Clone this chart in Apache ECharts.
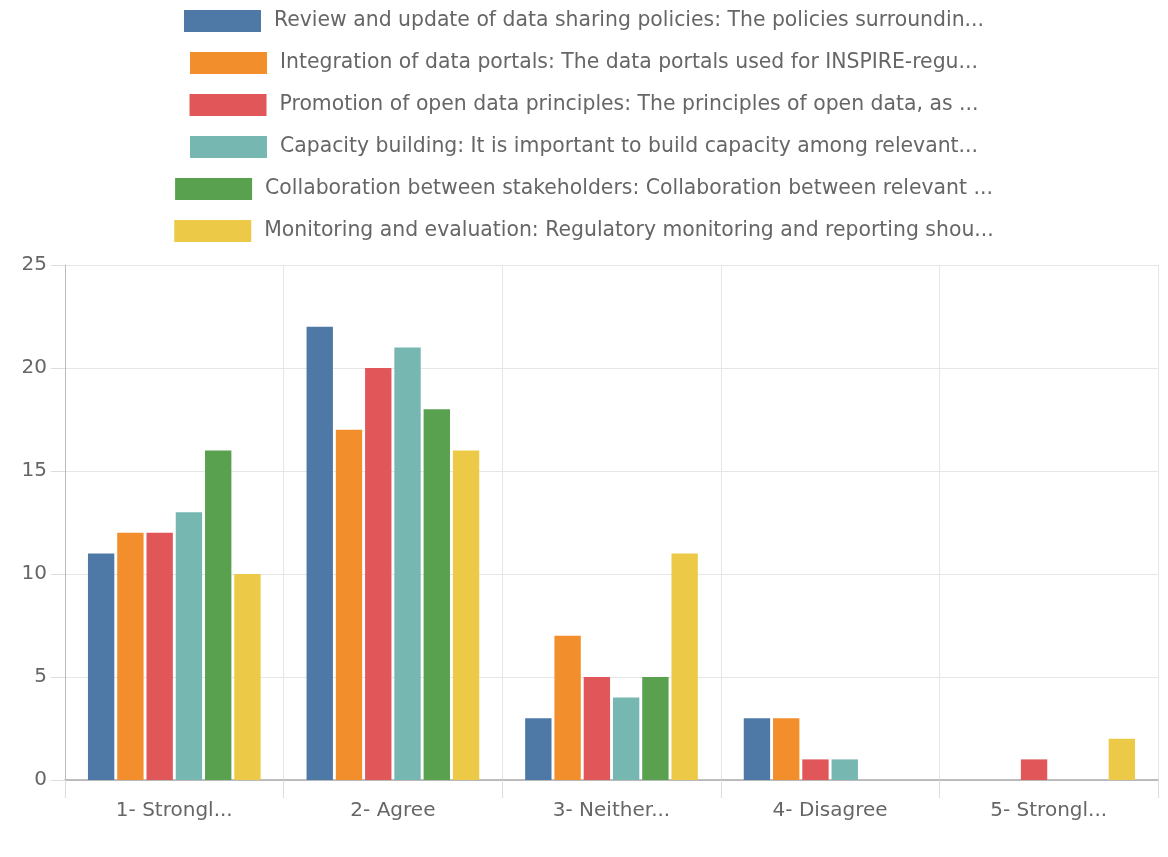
<!DOCTYPE html>
<html><head><meta charset="utf-8">
<script src="https://cdn.jsdelivr.net/npm/echarts@6/dist/echarts.min.js"></script>
<style>html,body{margin:0;padding:0;background:#fff}#c{width:1168px;height:857px}</style>
</head><body><div id="c"></div>
<script>
const categories = ['1- Strongl...', '2- Agree', '3- Neither...', '4- Disagree', '5- Strongl...'];
const seriesNames = [
  'Review and update of data sharing policies: The policies surroundin...',
  'Integration of data portals: The data portals used for INSPIRE-regu...',
  'Promotion of open data principles: The principles of open data, as ...',
  'Capacity building: It is important to build capacity among relevant...',
  'Collaboration between stakeholders: Collaboration between relevant ...',
  'Monitoring and evaluation: Regulatory monitoring and reporting shou...'
];
const reviewPolicies = [11, 22, 3, 3, 0];
const integrationPortals = [12, 17, 7, 3, 0];
const openData = [12, 20, 5, 1, 1];
const capacityBuilding = [13, 21, 4, 1, 0];
const collaboration = [16, 18, 5, 0, 0];
const monitoring = [10, 16, 11, 0, 2];
const yTicks = [0, 5, 10, 15, 20, 25];

const values = [reviewPolicies, integrationPortals, openData, capacityBuilding, collaboration, monitoring];
const colors = ['#4e79a7', '#f28e2b', '#e15759', '#76b7b2', '#59a14f', '#edc948'];
const font = '"DejaVu Sans", Verdana, sans-serif';

const chart = echarts.init(document.getElementById('c'), null, {renderer: 'canvas'});
chart.setOption({
  animation: false,
  color: colors,
  legend: seriesNames.map((n, i) => ({
    data: [n], left: 'center', top: 5 + i * 42, itemWidth: 77, itemHeight: 22, itemGap: 10,
    icon: 'rect', selectedMode: false,
    textStyle: {color: '#666', fontSize: 20.4, fontFamily: font, padding: [0, 0, 0, 8]}
  })),
  grid: {left: 65, right: 10, top: 265, bottom: 77, containLabel: false},
  xAxis: {
    type: 'category', data: categories,
    axisLine: {lineStyle: {color: '#aaa', width: 1.5}},
    axisTick: {show: true, length: 18, lineStyle: {color: '#ddd'}},
    splitLine: {show: true, lineStyle: {color: '#e6e6e6'}},
    axisLabel: {color: '#666', fontSize: 20, fontFamily: font, margin: 21}
  },
  yAxis: {
    type: 'value', min: yTicks[0], max: yTicks[yTicks.length - 1], interval: 5,
    axisLine: {show: true, lineStyle: {color: '#bbb'}},
    axisTick: {show: true, length: 14, lineStyle: {color: '#ddd'}},
    splitLine: {lineStyle: {color: '#e6e6e6'}},
    axisLabel: {color: '#666', fontSize: 20, fontFamily: font, margin: 18}
  },
  series: values.map((v, i) => ({
    name: seriesNames[i], type: 'bar', data: v,
    barGap: '11%', barCategoryGap: '21%',
    itemStyle: {color: colors[i], borderWidth: 0}
  }))
});
</script></body></html>
